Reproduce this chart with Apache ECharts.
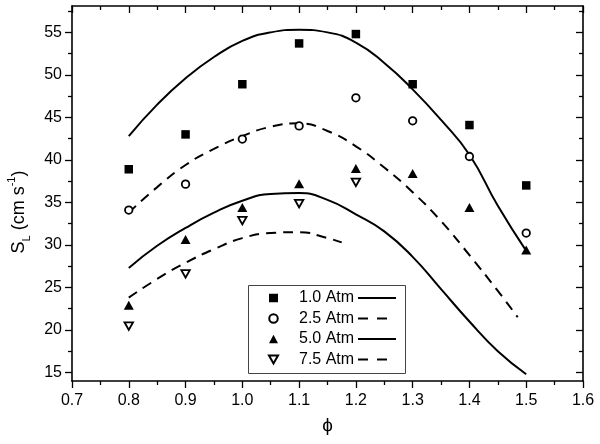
<!DOCTYPE html>
<html>
<head>
<meta charset="utf-8">
<script src="https://cdn.jsdelivr.net/npm/echarts@6/dist/echarts.min.js"></script>
<style>html,body{margin:0;padding:0;background:#fff}#c{width:600px;height:444px}</style>
</head>
<body>
<div id="c"></div>
<script>
// ---- data ----
const phi = [0.8, 0.9, 1.0, 1.1, 1.2, 1.3, 1.4, 1.5];
const atm10 = [38.9, 43.0, 48.9, 53.7, 54.8, 48.9, 44.1, 37.0];
const atm25 = [34.1, 37.15, 42.45, 44.0, 47.3, 44.6, 40.4, 31.4];
const atm50 = [22.9, 30.65, 34.4, 37.2, 39.0, 38.4, 34.4, 29.4];
const phi75 = [0.8, 0.9, 1.0, 1.1, 1.2];
const atm75 = [20.45, 26.6, 32.85, 34.85, 37.35];

const fit10X = [0.8, 0.85, 0.9, 0.95, 1.0, 1.05, 1.1, 1.15, 1.2, 1.25, 1.3, 1.35, 1.4, 1.45, 1.5];
const fit10Y = [42.8, 46.5, 49.6, 52.1, 54.0, 55.0, 55.3, 55.0, 53.8, 51.4, 48.3, 44.7, 40.6, 34.6, 29.3];
const fit25X = [0.8, 0.85, 0.9, 0.95, 1.0, 1.05, 1.1, 1.15, 1.2, 1.25, 1.3, 1.35, 1.4, 1.45, 1.485];
const fit25Y = [33.8, 36.8, 39.4, 41.3, 42.8, 43.9, 44.3, 43.4, 41.6, 39.1, 36.2, 32.8, 28.8, 24.6, 21.5];
const fit50X = [0.8, 0.85, 0.9, 0.95, 1.0, 1.05, 1.1, 1.15, 1.2, 1.25, 1.3, 1.35, 1.4, 1.45, 1.5];
const fit50Y = [27.3, 29.9, 32.0, 33.8, 35.2, 36.0, 36.1, 35.3, 33.6, 31.6, 28.6, 24.8, 21.0, 17.5, 14.8];
const fit75X = [0.8, 0.85, 0.9, 0.95, 1.0, 1.05, 1.1, 1.15, 1.175];
const fit75Y = [23.8, 26.0, 27.9, 29.5, 30.8, 31.4, 31.5, 30.8, 30.3];

const seriesNames = ['1.0 Atm', '2.5 Atm', '5.0 Atm', '7.5 Atm'];
const xTicks = [0.7, 0.8, 0.9, 1.0, 1.1, 1.2, 1.3, 1.4, 1.5, 1.6];
const xMinor = [0.75, 0.85, 0.95, 1.05, 1.15, 1.25, 1.35, 1.45, 1.55];
const yTicks = [15, 20, 25, 30, 35, 40, 45, 50, 55];
const yMinor = [17.5, 22.5, 27.5, 32.5, 37.5, 42.5, 47.5, 52.5, 57.5];
const xRange = [0.7, 1.6];
const yRange = [14, 58.1];

// ---- chart ----
const FONT = '"Liberation Sans", Arial, sans-serif';
const zip = (xs, ys) => xs.map((x, i) => [x, ys[i]]);
const chart = echarts.init(document.getElementById('c'), null, {renderer: 'canvas'});
const axisLine = {show: true, onZero: false, lineStyle: {color: '#000', width: 1.6}};
const noLine = {show: false, onZero: false};

function xAx(pos, ticks, len, inside, line, labels) {
  return {
    type: 'value', position: pos, min: xRange[0], max: xRange[1],
    axisLine: line ? axisLine : noLine, splitLine: {show: false},
    axisTick: {show: true, inside: inside, length: len, customValues: ticks, lineStyle: {color: '#000', width: 1.3}},
    axisLabel: labels ? {show: true, customValues: ticks, formatter: v => v.toFixed(1), fontSize: 16, fontFamily: FONT, color: '#000', margin: 12} : {show: false}
  };
}
function yAx(pos, ticks, len, inside, line, labels) {
  return {
    type: 'value', position: pos, min: yRange[0], max: yRange[1],
    axisLine: line ? axisLine : noLine, splitLine: {show: false},
    axisTick: {show: true, inside: inside, length: len, customValues: ticks, lineStyle: {color: '#000', width: 1.3}},
    axisLabel: labels ? {show: true, customValues: ticks, formatter: v => String(v), fontSize: 16, fontFamily: FONT, color: '#000', margin: 10} : {show: false}
  };
}

const hollow = {color: '#fff', borderColor: '#000', borderWidth: 1.8, opacity: 1};
const filled = {color: '#000', opacity: 1};
const dash = [10, 7];
const INV_TRI = 'path://M0,0L10,0L5,8.7Z';

const option = {
  backgroundColor: '#fff',
  animation: false,
  grid: {left: 72, right: 17, top: 6, bottom: 63, containLabel: false},
  xAxis: [
    Object.assign(xAx('bottom', xTicks, 7, false, true, true), {
      name: 'ϕ', nameLocation: 'middle', nameGap: 35,
      nameTextStyle: {fontSize: 19, fontFamily: FONT, color: '#000'}
    }),
    xAx('bottom', xMinor, 4, false, false, false),
    xAx('top', xTicks, 7, true, true, false),
    xAx('top', xMinor, 4, true, false, false)
  ],
  yAxis: [
    yAx('left', yTicks, 7, false, true, true),
    yAx('left', yMinor, 4, false, false, false),
    yAx('right', yTicks, 7, true, true, false),
    yAx('right', yMinor, 4, true, false, false)
  ],
  legend: [
    {
      data: [
        {name: seriesNames[0]},
        {name: seriesNames[1]},
        {name: seriesNames[2]},
        {name: seriesNames[3], icon: INV_TRI}
      ],
      orient: 'vertical', left: 263, top: 285,
      itemWidth: 9, itemHeight: 8.5, itemGap: 4.5, selectedMode: false,
      textStyle: {fontSize: 16, fontFamily: FONT, color: '#000', padding: [0, 0, 0, 16]}
    },
    {
      data: [
        {name: '1.0 Atm fit'},
        {name: '2.5 Atm fit', lineStyle: {type: [10, 9]}},
        {name: '5.0 Atm fit'},
        {name: '7.5 Atm fit', lineStyle: {type: [10, 9]}}
      ],
      orient: 'vertical', left: 352, top: 285,
      itemWidth: 38, itemHeight: 8.5, itemGap: 4.5, selectedMode: false,
      itemStyle: {color: 'rgba(0,0,0,0)', borderWidth: 0, opacity: 0},
      formatter: () => ' ',
      textStyle: {fontSize: 16, fontFamily: FONT, color: '#000'}
    }
  ],
  graphic: [
    {type: 'rect', left: 246, top: 283, shape: {width: 157, height: 88},
     style: {fill: 'none', stroke: '#444', lineWidth: 1}, z: 10},
    {type: 'text', x: 19, y: 212, rotation: Math.PI / 2,
     style: {
       text: '{m|S}{sub|L}{m| (cm s}{sup|-1}{m|)}',
       align: 'center', verticalAlign: 'middle', fill: '#000',
       rich: {
         m: {fontSize: 18, fontFamily: FONT, lineHeight: 26, verticalAlign: 'middle'},
         sub: {fontSize: 11, fontFamily: FONT, lineHeight: 14, verticalAlign: 'bottom'},
         sup: {fontSize: 11, fontFamily: FONT, lineHeight: 18, verticalAlign: 'top'}
       }
     }}
  ],
  series: [
    {name: '1.0 Atm fit', type: 'line', data: zip(fit10X, fit10Y), smooth: true, symbol: 'none',
     lineStyle: {color: '#000', width: 2}, itemStyle: {color: '#000'}, z: 2},
    {name: '2.5 Atm fit', type: 'line', data: zip(fit25X, fit25Y), smooth: true, symbol: 'none',
     lineStyle: {color: '#000', width: 2, type: dash}, itemStyle: {color: '#000'}, z: 2},
    {name: '5.0 Atm fit', type: 'line', data: zip(fit50X, fit50Y), smooth: true, symbol: 'none',
     lineStyle: {color: '#000', width: 2}, itemStyle: {color: '#000'}, z: 2},
    {name: '7.5 Atm fit', type: 'line', data: zip(fit75X, fit75Y), smooth: true, symbol: 'none',
     lineStyle: {color: '#000', width: 2, type: dash}, itemStyle: {color: '#000'}, z: 2},
    {name: '1.0 Atm', type: 'scatter', data: zip(phi, atm10), symbol: 'rect', symbolSize: 8.5, itemStyle: filled, z: 3},
    {name: '2.5 Atm', type: 'scatter', data: zip(phi, atm25), symbol: 'circle', symbolSize: 7.5, itemStyle: hollow, z: 3},
    {name: '5.0 Atm', type: 'scatter', data: zip(phi, atm50), symbol: 'triangle', symbolSize: [10, 9], itemStyle: filled, z: 3},
    {name: '7.5 Atm', type: 'scatter', data: zip(phi75, atm75), symbol: 'triangle', symbolRotate: 180, symbolSize: [8.5, 7.5], itemStyle: hollow, z: 3}
  ]
};
chart.setOption(option);
</script>
</body>
</html>
